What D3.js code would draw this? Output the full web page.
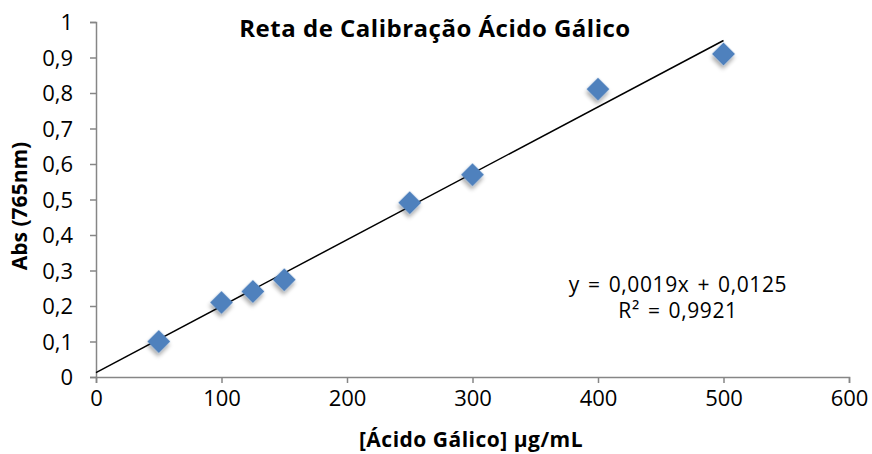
<!DOCTYPE html>
<html>
<head>
<meta charset="utf-8">
<script src="https://cdn.jsdelivr.net/npm/d3@7"></script>
<style>
  body { margin: 0; background: #fff; }
  text { font-family: "Open Sans", "DejaVu Sans", sans-serif; fill: #000; }
</style>
</head>
<body>
<script>
// Calibration data
const concentrations = [50, 100, 125, 150, 250, 300, 400, 500];
const absorbances = [0.100, 0.210, 0.241, 0.274, 0.491, 0.570, 0.811, 0.910];
const xTicks = [0, 100, 200, 300, 400, 500, 600];
const yTicks = [0, 0.1, 0.2, 0.3, 0.4, 0.5, 0.6, 0.7, 0.8, 0.9, 1];
const equationLines = ["y = 0,0019x + 0,0125", "R² = 0,9921"];

const svgWidth = 872;
const svgHeight = 454;

const margin = { top: 22, right: 23, bottom: 77, left: 96 };
const width = svgWidth - margin.left - margin.right;
const height = svgHeight - margin.top - margin.bottom;

const ptLocale = d3.formatLocale({ decimal: ",", thousands: ".", grouping: [3], currency: ["", ""] });

let svg = d3.select("body")
    .append("svg")
    .attr("width", svgWidth)
    .attr("height", svgHeight);

// soft shadow under the markers
const filter = svg.append("defs").append("filter")
    .attr("id", "shadow")
    .attr("x", "-50%").attr("y", "-50%")
    .attr("width", "200%").attr("height", "200%");
filter.append("feDropShadow")
    .attr("dx", 2).attr("dy", 3)
    .attr("stdDeviation", 2)
    .attr("flood-color", "#000")
    .attr("flood-opacity", 0.35);

let chartGroup = svg.append("g")
    .attr("transform", `translate(${margin.left}, ${margin.top})`);

const x = d3.scaleLinear().domain([0, 600]).range([0, width]);
const y = d3.scaleLinear().domain([0, 1]).range([height, 0]);

// axes
const xAxis = chartGroup.append("g")
    .attr("transform", `translate(0, ${height})`)
    .call(d3.axisBottom(x).tickValues(xTicks).tickSize(6).tickPadding(7).tickFormat(d3.format("d")));

const yAxis = chartGroup.append("g")
    .call(d3.axisLeft(y).tickValues(yTicks).tickSize(6).tickPadding(17).tickFormat(ptLocale.format(".1~f")));

[xAxis, yAxis].forEach(ax => {
    ax.select(".domain").attr("stroke", "#868686").attr("stroke-width", 1.5);
    ax.selectAll(".tick line").attr("stroke", "#868686").attr("stroke-width", 1.5);
    ax.selectAll(".tick text")
        .attr("font-size", "22px")
        .attr("fill", "#000")
        .style("font-family", "'Open Sans', 'DejaVu Sans', sans-serif");
});
yAxis.selectAll(".tick text").attr("dy", "0.36em");

// linear regression for the trend line
const mx = d3.mean(concentrations);
const my = d3.mean(absorbances);
let sxy = 0, sxx = 0;
concentrations.forEach((c, i) => {
    sxy += (c - mx) * (absorbances[i] - my);
    sxx += (c - mx) * (c - mx);
});
const slope = sxy / sxx;
const intercept = my - slope * mx;
const trendX = [0, d3.max(concentrations)];

chartGroup.append("line")
    .attr("x1", x(trendX[0]))
    .attr("y1", y(intercept + slope * trendX[0]))
    .attr("x2", x(trendX[1]))
    .attr("y2", y(intercept + slope * trendX[1]))
    .attr("stroke", "#000")
    .attr("stroke-width", 1.5);

// diamond markers
const points = concentrations.map((c, i) => ({ c: c, a: absorbances[i] }));
chartGroup.selectAll("path.pt")
    .data(points)
    .enter()
    .append("path")
    .attr("class", "pt")
    .attr("d", d3.symbol().type(d3.symbolSquare).size(265))
    .attr("transform", d => `translate(${x(d.c)}, ${y(d.a)}) rotate(45)`)
    .attr("fill", "#4F81BD")
    .attr("filter", "url(#shadow)");

// title
svg.append("text")
    .attr("x", 435)
    .attr("y", 37)
    .attr("text-anchor", "middle")
    .attr("font-size", "24px")
    .attr("font-weight", "bold")
    .attr("letter-spacing", "0.5px")
    .text("Reta de Calibração Ácido Gálico");

// equation
svg.selectAll("text.eq")
    .data(equationLines)
    .enter()
    .append("text")
    .attr("class", "eq")
    .attr("x", 678)
    .attr("y", (d, i) => 292 + i * 26)
    .attr("text-anchor", "middle")
    .attr("font-size", "21px")
    .attr("letter-spacing", "0.6px")
    .attr("word-spacing", "2px")
    .text(d => d);

// axis titles
svg.append("text")
    .attr("x", 471)
    .attr("y", 447)
    .attr("text-anchor", "middle")
    .attr("font-size", "21px")
    .attr("font-weight", "bold")
    .attr("letter-spacing", "0.5px")
    .text("[Ácido Gálico] µg/mL");

svg.append("text")
    .attr("transform", "translate(27, 206) rotate(-90)")
    .attr("text-anchor", "middle")
    .attr("font-size", "21px")
    .attr("font-weight", "bold")
    .text("Abs (765nm)");
</script>
</body>
</html>
